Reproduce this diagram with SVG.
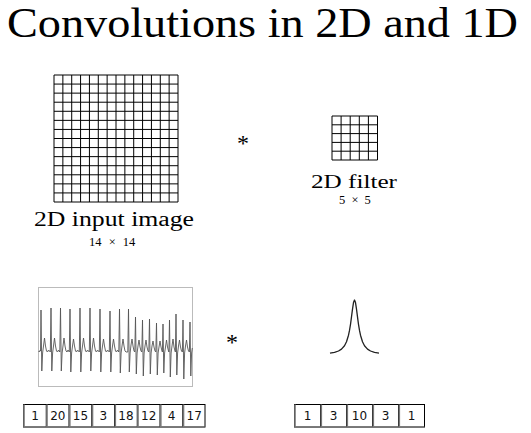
<svg xmlns="http://www.w3.org/2000/svg" width="531" height="433" viewBox="0 0 531 433">
<style>
.t{fill:#000}
.n{font-size:12px;fill:#111;text-anchor:middle}
.grid{fill:none;stroke:#000;stroke-width:1}
.cell{fill:#fff;stroke:#000;stroke-width:1}
.sh{stroke:#777;stroke-width:1.6}
</style>
<rect width="531" height="433" fill="#fff"/>
<text class="t" font-family="'Liberation Serif', serif" x="7" y="37" font-size="42" textLength="511" lengthAdjust="spacingAndGlyphs">Convolutions in 2D and 1D</text>

<g id="input-image">
<path class="grid" d="M54,75V202M62.86,75V202M71.71,75V202M80.57,75V202M89.43,75V202M98.29,75V202M107.14,75V202M116,75V202M124.86,75V202M133.71,75V202M142.57,75V202M151.43,75V202M160.29,75V202M169.14,75V202M178,75V202M54,75H178M54,84.07H178M54,93.14H178M54,102.21H178M54,111.29H178M54,120.36H178M54,129.43H178M54,138.5H178M54,147.57H178M54,156.64H178M54,165.71H178M54,174.79H178M54,183.86H178M54,192.93H178M54,202H178"/>
<text class="t" font-family="'Liberation Serif', serif" x="114" y="226" font-size="20" text-anchor="middle" textLength="160" lengthAdjust="spacingAndGlyphs">2D input image</text>
<text class="t" font-family="'Liberation Serif', serif" x="89" y="246" font-size="12.5">14 <tspan dx="4">×</tspan> <tspan dx="4">14</tspan></text>
</g>

<g id="op-2d"><text class="t" font-family="'Liberation Serif', serif" x="243" y="151" font-size="24" text-anchor="middle">*</text></g>

<g id="filter-2d">
<path class="grid" d="M332,116V160M341.1,116V160M350.2,116V160M359.3,116V160M368.4,116V160M377.5,116V160M332,116H377.5M332,124.8H377.5M332,133.6H377.5M332,142.4H377.5M332,151.2H377.5M332,160H377.5"/>
<text class="t" font-family="'Liberation Serif', serif" x="354" y="188" font-size="19" text-anchor="middle" textLength="86" lengthAdjust="spacingAndGlyphs">2D filter</text>
<text class="t" font-family="'Liberation Serif', serif" x="339" y="204" font-size="12.5">5 <tspan dx="3">×</tspan> <tspan dx="3">5</tspan></text>
</g>

<g id="signal-1d">
<rect x="38.5" y="287.5" width="154" height="99" fill="#fff" stroke="#bbb" stroke-width="1"/>
<polyline fill="none" stroke="#555" stroke-width="0.9" stroke-linejoin="round" points="38.5,351 39.5,352 40.3,350 40.5,351 41,310 41.8,371 42.6,353 43.5,346 44.5,338 45.5,346 46.5,351 47.5,352 48.5,350 49.5,351 50.3,352 51,308 51.8,371 52.6,353 53.5,346 54.5,338 55.5,346 56.5,351 57.5,352 58.5,350 59.8,352 60.5,308 61.3,371 62.1,353 63,346 64,338 65,346 66,351 67,352 68,350 69.3,352 70,309 70.8,372 71.6,353 72.5,346 73.5,339 74.5,346 75.5,351 76.5,352 77.5,350 79.3,352 80,308 80.8,372 81.6,353 82.5,346 83.5,338 84.5,346 85.5,351 86.5,352 87.5,350 89.3,352 90,308 90.8,371 91.6,353 92.5,346 93.5,338 94.5,346 95.5,351 96.5,352 97.5,350 99.3,352 100,309 100.8,372 101.6,353 102.5,346 103.5,339 104.5,346 105.5,351 106.5,352 107.5,350 109.3,352 110,311 110.8,372 111.6,353 112.5,346 113.5,339 114.5,346 115.5,351 116.5,352 117.5,350 118.8,352 119.5,309 120.3,373 121.1,353 122,346 123,339 124,346 125,351 126,352 127.8,352 128.5,309 129.3,372 130.1,353 131,345 132,339 133,346 134,351 134.8,352 135.5,317 136.3,374 137.1,353 138,346 139,340 140,347 141,351 141.8,352 142.5,320 143.3,376 144.1,353 145,346 146,340 147,347 148,351 148.8,352 149.5,319 150.3,374 151.1,353 152,346 153,341 154,347 155,351 155.8,352 156.5,323 157.3,375 158.1,353 159,347 160,341 161,347 162,351 162.4,352 163,324 163.8,373 164.6,353 165.5,347 166.5,340 167.5,347 168.5,351 168.9,352 169.5,320 170.3,377 171.1,353 172,346 173,339 174,347 175,351 175.4,352 176,314 176.8,375 177.6,353 178.5,346 179.5,340 180.5,347 181.5,351 182.4,352 183,320 183.8,379 184.6,353 185.5,346 186.5,340 187.5,347 188.5,351 189.4,352 190,322 190.8,376 191.6,353 192.3,348"/>
</g>

<g id="op-1d"><text class="t" font-family="'Liberation Serif', serif" x="232" y="350" font-size="24" text-anchor="middle">*</text></g>

<g id="filter-1d">
<polyline fill="none" stroke="#222" stroke-width="1.3" stroke-linejoin="round" points="330,353.2 334.5,352.4 338.5,351 341.5,349.1 344.5,345.7 346.5,341.8 348.5,335.2 349.5,330.4 350.5,324.3 351.5,316.9 352.5,309.1 353.5,302.6 354.5,300 355.5,302.6 356.5,309.1 357.5,316.9 358.5,324.3 359.5,330.4 360.5,335.2 362.5,341.8 364.5,345.7 367.5,349.1 370.5,351 374.5,352.4 379,353.2"/>
</g>

<g id="array-signal">
<rect class="cell" x="23.5" y="404.5" width="181.5" height="22.5"/>
<path stroke="#000" stroke-width="1" d="M46.25,404.5V427M69,404.5V427M91.75,404.5V427M114.5,404.5V427M137.25,404.5V427M160,404.5V427M182.75,404.5V427"/>
<path class="sh" d="M24,404.5V427.5M47,404.5V427.5M69.8,404.5V427.5M92.5,404.5V427.5M115.3,404.5V427.5M138,404.5V427.5M160.8,404.5V427.5M183.5,404.5V427.5M23.5,427.2H205"/>
<g font-family="'DejaVu Sans', sans-serif">
<text class="n" x="35" y="419.5">1</text>
<text class="n" x="57.8" y="419.5">20</text>
<text class="n" x="80.5" y="419.5">15</text>
<text class="n" x="103.2" y="419.5">3</text>
<text class="n" x="126" y="419.5">18</text>
<text class="n" x="148.7" y="419.5">12</text>
<text class="n" x="171.5" y="419.5">4</text>
<text class="n" x="194.2" y="419.5">17</text>
</g>
</g>

<g id="array-filter">
<rect class="cell" x="294.5" y="404.5" width="130" height="22.5"/>
<path stroke="#000" stroke-width="1" d="M320.5,404.5V427M346.5,404.5V427M372.5,404.5V427M398.5,404.5V427"/>
<path class="sh" d="M295,404.5V427.5M321.3,404.5V427.5M347.3,404.5V427.5M373.3,404.5V427.5M399.3,404.5V427.5M294.5,427.2H424.5"/>
<g font-family="'DejaVu Sans', sans-serif">
<text class="n" x="307.5" y="419.5">1</text>
<text class="n" x="333.5" y="419.5">3</text>
<text class="n" x="359.5" y="419.5">10</text>
<text class="n" x="385.5" y="419.5">3</text>
<text class="n" x="411.5" y="419.5">1</text>
</g>
</g>
</svg>
